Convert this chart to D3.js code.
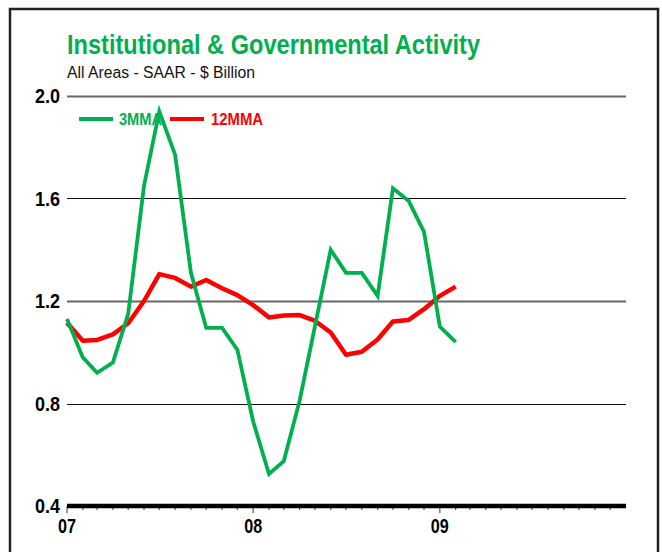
<!DOCTYPE html>
<html>
<head>
<meta charset="utf-8">
<script src="https://cdn.jsdelivr.net/npm/d3@7"></script>
<style>
  body { margin: 0; background: #fff; }
  svg { display: block; }
  text { font-family: "Liberation Sans Narrow", "Arial Narrow", "Liberation Sans", Arial, sans-serif; }
</style>
</head>
<body>
<svg id="chart" width="662" height="552"></svg>
<script>
// --- Data (monthly, Jan 2007 onward) ---
const startMonth = new Date(2007, 0, 1);
const mma3 = [1.13, 0.98, 0.92, 0.96, 1.15, 1.65, 1.94, 1.77, 1.31, 1.095, 1.095, 1.01,
              0.73, 0.525, 0.575, 0.81, 1.10, 1.40, 1.31, 1.31, 1.22, 1.64, 1.59, 1.47,
              1.10, 1.04];
const mma12 = [1.115, 1.045, 1.048, 1.07, 1.113, 1.20, 1.305, 1.29, 1.256, 1.282, 1.25, 1.223,
               1.184, 1.136, 1.143, 1.145, 1.123, 1.077, 0.99, 1.002, 1.05, 1.12, 1.126, 1.168,
               1.22, 1.256];
const yTicks = [0.4, 0.8, 1.2, 1.6, 2.0];
const yearTicks = [2007, 2008, 2009];
const seriesNames = ["3MMA", "12MMA"];

const green = "#00b04f";
const red = "#ff0000";

const svg = d3.select("#chart");

// frame
svg.append("rect")
    .attr("x", 10).attr("y", 9)
    .attr("width", 648).attr("height", 560)
    .attr("fill", "none")
    .attr("stroke", "#222")
    .attr("stroke-width", 2.5);

// --- Scales ---
const x = d3.scaleTime()
    .domain([new Date(2007, 0, 1), new Date(2010, 0, 1)])
    .range([67, 626]);
const y = d3.scaleLinear()
    .domain([0.4, 2.0])
    .range([506, 96]);

const monthDate = i => d3.timeMonth.offset(startMonth, i);

// --- Titles ---
svg.append("text")
    .attr("x", 67).attr("y", 54)
    .attr("fill", green)
    .attr("font-size", 28)
    .attr("font-weight", "bold")
    .attr("textLength", 413)
    .attr("lengthAdjust", "spacingAndGlyphs")
    .text("Institutional & Governmental Activity");

svg.append("text")
    .attr("x", 67).attr("y", 78)
    .attr("fill", "#111")
    .attr("font-size", 16)
    .attr("textLength", 188)
    .attr("lengthAdjust", "spacingAndGlyphs")
    .text("All Areas - SAAR - $ Billion");

// --- Gridlines ---
svg.append("g")
    .selectAll("line")
    .data(yTicks.filter(d => d > 0.4))
    .join("line")
    .attr("x1", x.range()[0]).attr("x2", x.range()[1])
    .attr("y1", d => Math.round(y(d)) + 0.5)
    .attr("y2", d => Math.round(y(d)) + 0.5)
    .attr("stroke", (d, i) => i % 2 === 0 ? "#111" : "#666")
    .attr("stroke-width", (d, i) => i % 2 === 0 ? 1 : 2);

// --- Y labels (narrow bold) ---
svg.append("g")
    .selectAll("text")
    .data(yTicks)
    .join("text")
    .attr("x", 60)
    .attr("y", d => y(d) + 7)
    .attr("text-anchor", "end")
    .attr("font-size", 20)
    .attr("font-weight", "bold")
    .attr("fill", "#000")
    .attr("textLength", 25)
    .attr("lengthAdjust", "spacingAndGlyphs")
    .text(d => d.toFixed(1));

// --- Bottom axis ---
const months = d3.timeMonth.range(x.domain()[0], x.domain()[1]);
svg.append("g")
    .selectAll("line")
    .data(months)
    .join("line")
    .attr("x1", d => x(d)).attr("x2", d => x(d))
    .attr("y1", 506)
    .attr("y2", d => d.getMonth() === 0 ? 513 : 510)
    .attr("stroke", "#555")
    .attr("stroke-width", 1.2);

svg.append("line")
    .attr("x1", x.range()[0]).attr("x2", x.range()[1])
    .attr("y1", 506).attr("y2", 506)
    .attr("stroke", "#000")
    .attr("stroke-width", 4.5);

svg.append("g")
    .selectAll("text")
    .data(yearTicks)
    .join("text")
    .attr("x", d => x(new Date(d, 0, 1)) - 9)
    .attr("y", 533)
    .attr("font-size", 20)
    .attr("font-weight", "bold")
    .attr("fill", "#000")
    .attr("textLength", 18)
    .attr("lengthAdjust", "spacingAndGlyphs")
    .text(d => String(d).slice(2));

// --- Legend (drawn under the lines) ---
const legend = svg.append("g");
const legendItems = [
    {name: seriesNames[0], color: green, x1: 79, x2: 113, tx: 119, len: 43},
    {name: seriesNames[1], color: red, x1: 170, x2: 204, tx: 211, len: 52}
];
legend.selectAll("line")
    .data(legendItems)
    .join("line")
    .attr("x1", d => d.x1).attr("x2", d => d.x2)
    .attr("y1", 119).attr("y2", 119)
    .attr("stroke", d => d.color)
    .attr("stroke-width", 4);
legend.selectAll("text")
    .data(legendItems)
    .join("text")
    .attr("x", d => d.tx)
    .attr("y", 125)
    .attr("font-size", 17)
    .attr("font-weight", "bold")
    .attr("fill", d => d.color)
    .attr("textLength", d => d.len)
    .attr("lengthAdjust", "spacingAndGlyphs")
    .text(d => d.name);

// --- Series ---
const line = d3.line()
    .x((d, i) => x(monthDate(i)))
    .y(d => y(d));

svg.append("path")
    .datum(mma12)
    .attr("d", line)
    .attr("fill", "none")
    .attr("stroke", red)
    .attr("stroke-width", 4.5)
    .attr("stroke-linejoin", "round");

svg.append("path")
    .datum(mma3)
    .attr("d", line)
    .attr("fill", "none")
    .attr("stroke", green)
    .attr("stroke-width", 3.8)
    .attr("stroke-linejoin", "miter");
</script>
</body>
</html>
